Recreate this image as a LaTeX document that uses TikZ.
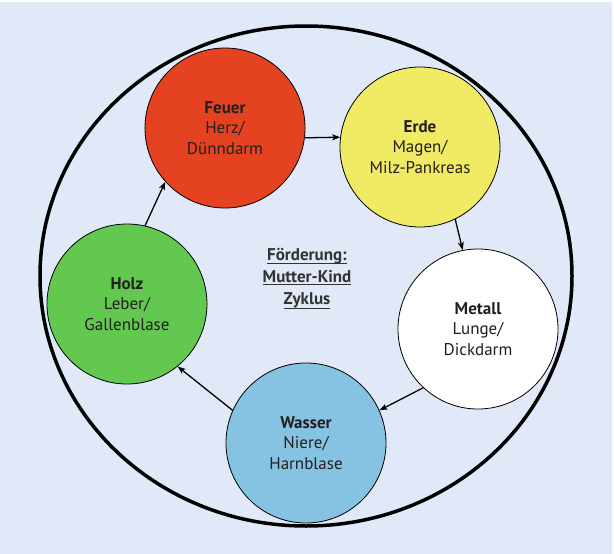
\documentclass[tikz,border=0pt]{standalone}
\usepackage{fontspec}
\setmainfont{PT Sans}
\usetikzlibrary{arrows.meta}
\definecolor{bg}{RGB}{225,233,248}
\definecolor{feuerc}{RGB}{229,66,34}
\definecolor{erdec}{RGB}{240,234,100}
\definecolor{wasserc}{RGB}{134,195,227}
\definecolor{holzc}{RGB}{99,200,80}
\definecolor{txt}{RGB}{35,31,32}
\definecolor{ctxt}{RGB}{51,51,51}
\newcommand{\myul}[2][4pt]{\setbox0\hbox{#2}\rlap{\rule[-#1]{\wd0}{1.2pt}}\box0}
\begin{document}
\begin{tikzpicture}[x=1pt,y=-1pt,
  elem/.style={circle, draw=black, line width=0.8pt, minimum size=160pt, inner sep=0pt,
    align=center, text=txt, font=\fontsize{17}{20.5}\selectfont},
  arr/.style={-{Stealth[length=8pt,width=6pt,inset=2pt]}, line width=1.3pt, black},
  ctext/.style={anchor=base, inner sep=0pt, text=ctxt, font=\fontsize{17}{20.5}\selectfont\bfseries}]
\fill[white] (0,0) rectangle (614,554);
\fill[bg] (0,2) rectangle (612,554);
\useasboundingbox (0,0) rectangle (614,554);
\draw[line width=3.5pt] (306,276) ellipse [x radius=266pt, y radius=250pt];
\node[elem, fill=feuerc] (feuer) at (225,128) {\textbf{Feuer}\\Herz/\\Dünndarm};
\node[elem, fill=erdec] (erde) at (420,147) {\textbf{Erde}\\Magen/\\Milz-Pankreas};
\node[elem, fill=white] (metall) at (478,329) {\textbf{Metall}\\Lunge/\\Dickdarm};
\node[elem, fill=wasserc] (wasser) at (306,443) {\textbf{Wasser}\\Niere/\\Harnblase};
\node[elem, fill=holzc] (holz) at (127,304) {\textbf{Holz}\\Leber/\\Gallenblase};
\draw[arr] (feuer.-7) -- (erde.173.5);
\draw[arr] (erde.-64) -- (metall.101.5);
\draw[arr] (metall.227) -- (wasser.24);
\draw[arr] (wasser.156.6) -- (holz.-51);
\draw[arr] (holz.77.4) -- (feuer.222.6);
\node[ctext] (c1) at (307,260) {\myul{Förderung:}};
\node[ctext] (c2) at (307,282) {\myul[3pt]{Mutter-Kind}};
\node[ctext] (c3) at (307,304) {\myul[5pt]{Zyklus}};
\end{tikzpicture}
\end{document}
